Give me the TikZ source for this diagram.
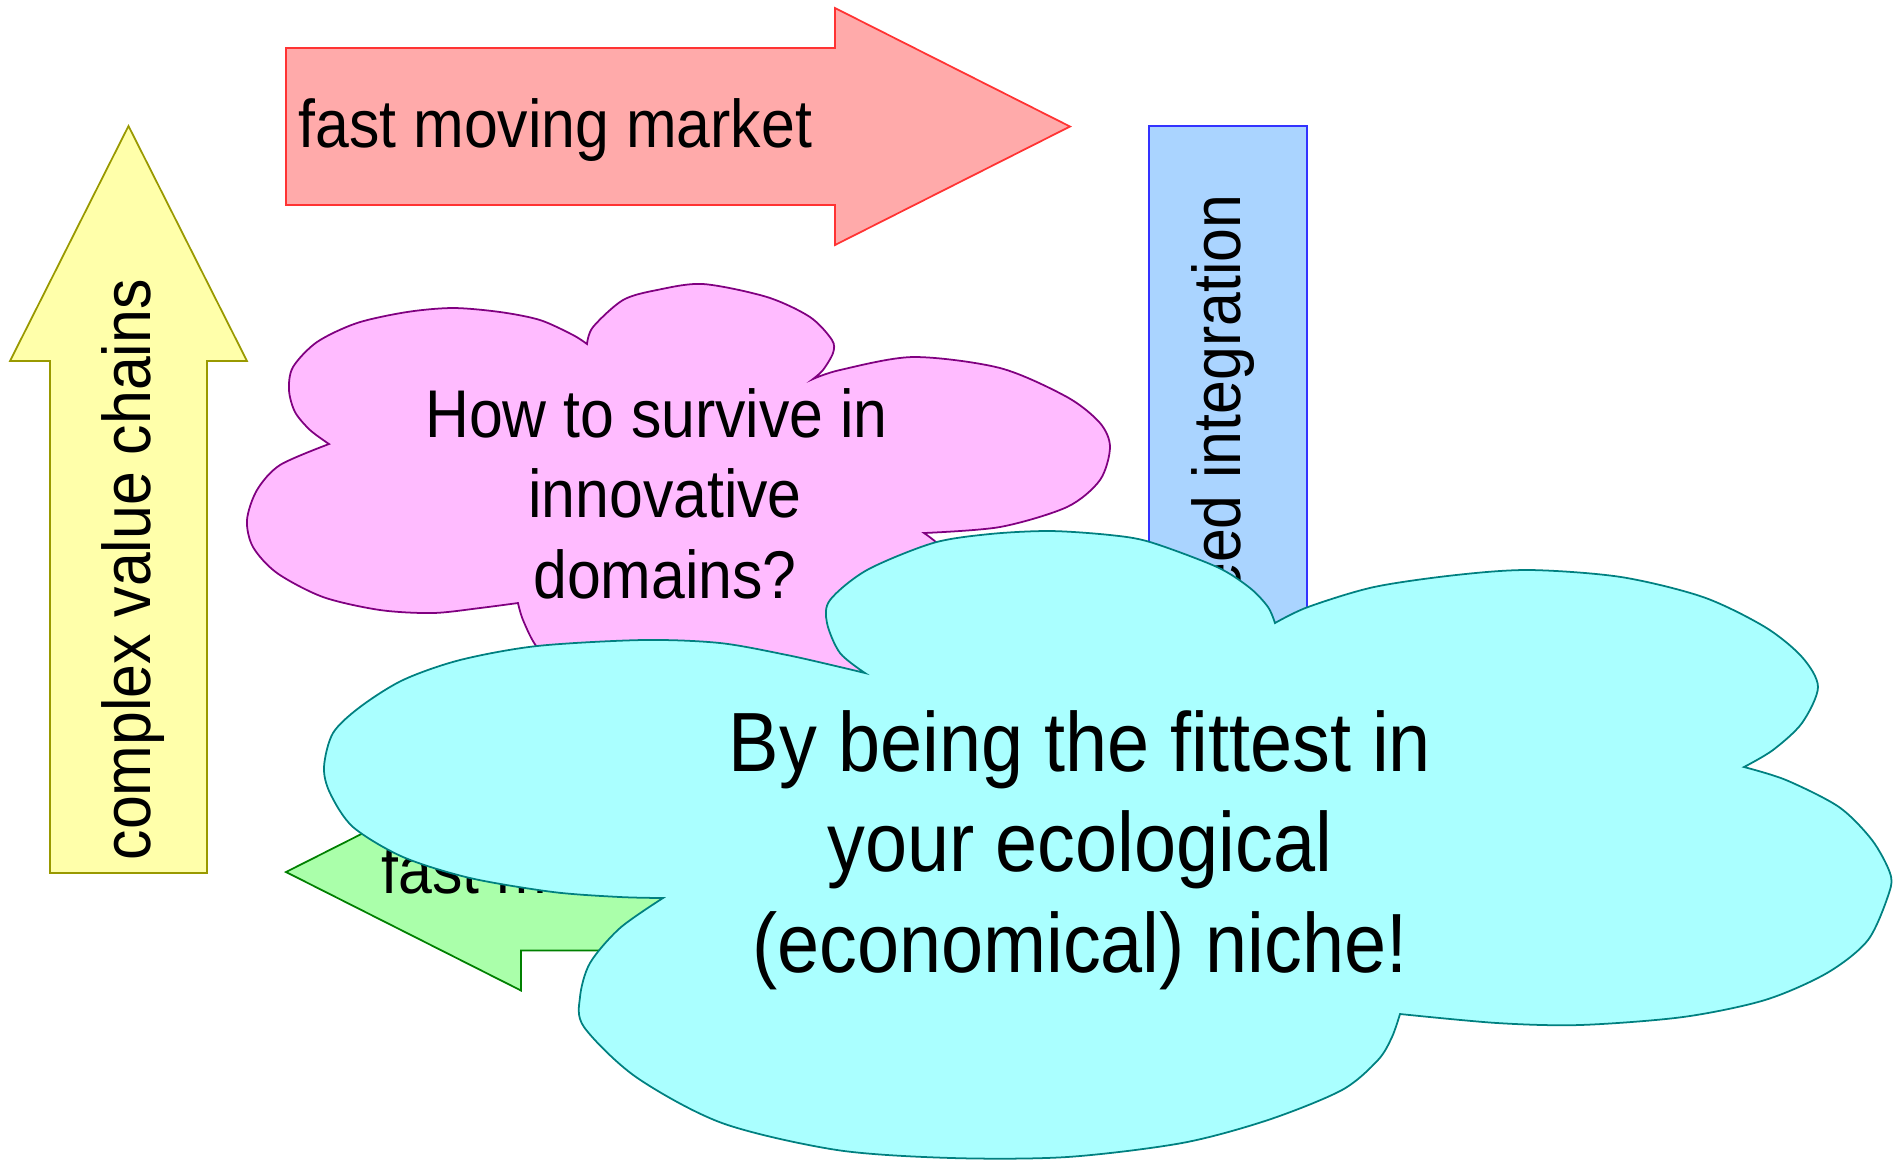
\documentclass[tikz,border=0pt]{standalone}
\usepackage{fontspec}
\setmainfont{Liberation Sans}[FakeStretch=0.9]
\definecolor{yfill}{HTML}{FFFFAA}\definecolor{ydraw}{HTML}{999900}
\definecolor{rfill}{HTML}{FFAAAA}\definecolor{rdraw}{HTML}{FF3333}
\definecolor{bfill}{HTML}{AAD4FF}\definecolor{bdraw}{HTML}{3333FF}
\definecolor{gfill}{HTML}{AAFFAA}\definecolor{gdraw}{HTML}{008000}
\definecolor{pfill}{HTML}{FFBBFF}\definecolor{pdraw}{HTML}{800080}
\definecolor{cfill}{HTML}{AAFFFF}\definecolor{cdraw}{HTML}{008080}
\tikzset{
  outline/.style={line width=0.5pt, line join=miter},
  arrowtext/.style={inner sep=0pt, font=\fontsize{19.2pt}{22.8pt}\selectfont},
  pinktext/.style={inner sep=0pt, align=center, font=\fontsize{19.2pt}{22.76pt}\selectfont},
  cyantext/.style={inner sep=0pt, align=center, font=\fontsize{23.9pt}{28.45pt}\selectfont},
}
\begin{document}
\begin{tikzpicture}[x=0.01cm,y=-0.01cm]
\useasboundingbox (0,0) rectangle (1896,1159);
% yellow up arrow
\draw[outline, draw=ydraw, fill=yfill] (50,873) -- (50,361) -- (10,361) -- (128.5,126) -- (247,361) -- (207,361) -- (207,873) -- cycle;
% red right arrow
\draw[outline, draw=rdraw, fill=rfill] (286,48) -- (835,48) -- (835,8) -- (1070,126.5) -- (835,245) -- (835,205) -- (286,205) -- cycle;
% blue down arrow
\draw[outline, draw=bdraw, fill=bfill] (1149,126) -- (1307,126) -- (1307,638) -- (1346,638) -- (1228,873) -- (1110,638) -- (1149,638) -- cycle;
% green left arrow
\draw[outline, draw=gdraw, fill=gfill] (286,872) -- (521,753.5) -- (521,793.5) -- (1071,793.5) -- (1071,950.5) -- (521,950.5) -- (521,990.5) -- cycle;
% arrow texts
\node[arrowtext, anchor=base west] (tred) at (298,147) {fast moving market};
\node[arrowtext, rotate=90, anchor=base west] (tyellow) at (150,861) {complex value chains};
\node[arrowtext, rotate=90, anchor=base east] (tblue) at (1240,194) {need integration};
\node[arrowtext, anchor=base west] (tgreen) at (381,893) {fast moving};
% pink cloud
\draw[outline, draw=pdraw, fill=pfill]
  plot[smooth] coordinates {(587,344) (573,335) (540,320) (500,312) (453,308) (407,312) (357,323) (317,342) (293,367) (289,390) (295,412) (310,430) (329,444)}
  -- plot[smooth] coordinates {(329,444) (280,465) (257,490) (247,520) (253,547) (277,573) (323,597) (380,610) (433,613) (480,608) (518,603)}
  -- plot[smooth] coordinates {(518,603) (523,620) (537,647) (562,666) (650,684) (800,688) (900,668) (955,630) (962,580) (942,548) (924,533)}
  -- plot[smooth] coordinates {(924,533) (1000,527) (1067,507) (1100,480) (1110,447) (1100,423) (1067,397) (1000,368) (913,357) (840,370) (813,379)}
  -- plot[smooth] coordinates {(813,379) (823,370) (833,353) (832,340) (810,317) (767,297) (703,284) (657,290) (623,300) (593,327) (587,344)}
  -- cycle;
\node[pinktext, anchor=base] (tpink) at (665,598) {How to survive in\ \mbox{}\\innovative\\domains?};
% cyan cloud
\draw[outline, draw=cdraw, fill=cfill]
  plot[smooth] coordinates {(865,673) (840,653) (827,623) (830,600) (867,570) (933,543) (990,534) (1050,531) (1110,535) (1150,542) (1217,567) (1250,588) (1268,607) (1275,623)}
  -- plot[smooth] coordinates {(1275,623) (1308,607) (1374,587) (1456,575) (1530,570) (1621,577) (1703,597) (1765,627) (1802,657) (1818,687) (1802,723) (1773,750) (1744,767)}
  -- plot[smooth] coordinates {(1744,767) (1786,780) (1839,807) (1872,840) (1890,873) (1889,893) (1868,940) (1827,973) (1765,1000) (1683,1017) (1580,1025) (1497,1023) (1400,1014)}
  -- plot[smooth] coordinates {(1400,1014) (1392,1037) (1378,1060) (1342,1090) (1268,1120) (1182,1143) (1067,1157) (952,1158) (837,1150) (722,1123) (636,1077) (584,1027) (580,997) (590,963) (620,928) (663,898)}
  -- plot[smooth] coordinates {(663,898) (620,897) (553,892) (470,878) (403,857) (353,827) (330,793) (324,767) (333,733) (360,707) (403,680) (460,660) (537,646) (643,640) (720,643) (787,655) (840,667) (865,673)}
  -- cycle;
\node[cyantext, anchor=base] (tcyan) at (1080,972) {By being the fittest in\\your ecological\\(economical) niche!};
\end{tikzpicture}
\end{document}
